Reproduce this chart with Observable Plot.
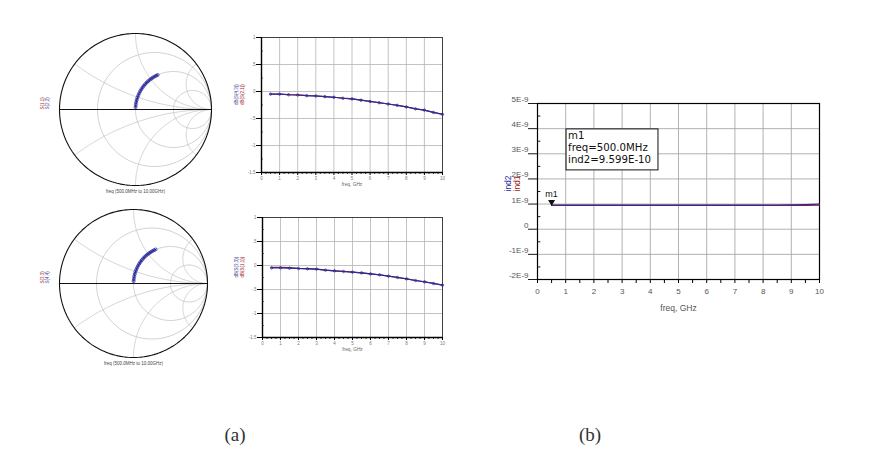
<!DOCTYPE html>
<html><head><meta charset="utf-8">
<script src="https://cdn.jsdelivr.net/npm/d3@7"></script>
<script src="https://cdn.jsdelivr.net/npm/@observablehq/plot@0.6"></script>
<style>
body{margin:0;background:#fff;}
#wrap{position:relative;width:875px;height:453px;overflow:hidden;background:#fff;}
#wrap svg{position:absolute;overflow:visible;background:transparent;}
.cap{position:absolute;font-family:"Liberation Serif","DejaVu Serif",serif;font-size:19px;line-height:19px;color:#333;transform:translateX(-50%);}
</style></head><body><div id="wrap"></div>
<script>
// ---- data ----
const freqGHz = [0.5,1,1.5,2,2.5,3,3.5,4,4.5,5,5.5,6,6.5,7,7.5,8,8.5,9,9.5,10];
// Smith chart traces (reflection coefficient)
const s11Re = [0.001,0.004,0.009,0.016,0.025,0.036,0.048,0.062,0.077,0.093,0.110,0.128,0.148,0.167,0.187,0.208,0.228,0.249,0.270,0.291];
const s11Im = [0.032,0.064,0.095,0.126,0.156,0.185,0.213,0.240,0.266,0.290,0.313,0.334,0.355,0.373,0.390,0.406,0.420,0.432,0.444,0.454];
const s33Re = [0.002,0.005,0.010,0.017,0.026,0.037,0.049,0.063,0.078,0.094,0.112,0.130,0.150,0.170,0.190,0.211,0.232,0.253,0.275,0.298];
const s33Im = [0.033,0.065,0.096,0.127,0.158,0.187,0.215,0.242,0.268,0.292,0.315,0.337,0.358,0.377,0.394,0.410,0.424,0.437,0.449,0.460];
// small rectangular plots
const topBlue = [-0.048,-0.048,-0.060,-0.065,-0.077,-0.083,-0.095,-0.107,-0.125,-0.137,-0.161,-0.185,-0.208,-0.232,-0.256,-0.286,-0.321,-0.345,-0.387,-0.423];
const topRed  = [-0.046,-0.047,-0.058,-0.064,-0.076,-0.082,-0.094,-0.106,-0.124,-0.136,-0.160,-0.184,-0.207,-0.231,-0.255,-0.285,-0.320,-0.344,-0.386,-0.422];
const botBlue = [-0.049,-0.049,-0.056,-0.063,-0.069,-0.076,-0.097,-0.111,-0.125,-0.139,-0.153,-0.174,-0.194,-0.222,-0.250,-0.278,-0.313,-0.340,-0.375,-0.410];
const botRed  = [-0.040,-0.040,-0.045,-0.058,-0.066,-0.074,-0.095,-0.110,-0.124,-0.138,-0.152,-0.173,-0.193,-0.221,-0.249,-0.277,-0.312,-0.339,-0.374,-0.409];
const smallYTicks = [-1.5,-1,-0.5,0,0.5,1];
const smallYLabels = ["-1.5","-1","-.5","0",".5","1"];
// large plot (b)
const ind2 = [9.599e-10,9.58e-10,9.57e-10,9.56e-10,9.56e-10,9.55e-10,9.55e-10,9.55e-10,9.55e-10,9.55e-10,9.56e-10,9.56e-10,9.57e-10,9.57e-10,9.58e-10,9.60e-10,9.63e-10,9.68e-10,9.78e-10,9.95e-10];
const ind1 = [9.50e-10,9.50e-10,9.49e-10,9.49e-10,9.48e-10,9.48e-10,9.48e-10,9.48e-10,9.48e-10,9.48e-10,9.48e-10,9.48e-10,9.49e-10,9.49e-10,9.49e-10,9.50e-10,9.50e-10,9.51e-10,9.52e-10,9.53e-10];
const bigYTicks = [-2e-9,-1e-9,0,1e-9,2e-9,3e-9,4e-9,5e-9];
const bigYLabels = ["-2E-9","-1E-9","0","1E-9","2E-9","3E-9","4E-9","5E-9"];
const xTicks = [0,1,2,3,4,5,6,7,8,9,10];
const markerLines = ["m1", "freq=500.0MHz", "ind2=9.599E-10"];

const wrap = document.getElementById("wrap");
const FONT = "Liberation Sans, Arial, sans-serif";
const NAVY = "#2a2a9c", DRED = "#a01818";

function place(svg, left, top) {
  svg.style.left = left + "px"; svg.style.top = top + "px";
  wrap.appendChild(svg);
}

// ---- Smith chart grid geometry ----
function gam(r, x) {
  const D = (r + 1) * (r + 1) + x * x;
  return [(r * r + x * x - 1) / D, 2 * x / D];
}
const grid = [];
[1/3, 1, 3].forEach((r, i) => {
  const c = r / (1 + r), R = 1 / (1 + r);
  d3.range(0, 363, 3).forEach(a => grid.push({g: "r" + i, x: c + R * Math.cos(a * Math.PI / 180), y: R * Math.sin(a * Math.PI / 180)}));
});
[1/3, 1, 3, -1/3, -1, -3].forEach((xv, i) => {
  d3.range(0, 0.999, 0.004).forEach(t => { const p = gam(t / (1 - t), xv); grid.push({g: "x" + i, x: p[0], y: p[1]}); });
  grid.push({g: "x" + i, x: 1, y: 0});
});
const outer = d3.range(0, 363, 2).map(a => ({x: Math.cos(a * Math.PI / 180), y: Math.sin(a * Math.PI / 180)}));

function smith(re, im, m, labA, labB, cap) {
  const pts = freqGHz.map((f, i) => ({re: re[i], im: im[i]}));
  return Plot.plot({
    width: 200, height: 190, marginLeft: m, marginRight: m, marginTop: (190 - (200 - 2 * m)) / 2, marginBottom: (190 - (200 - 2 * m)) / 2,
    style: {fontFamily: FONT, background: "transparent"},
    x: {domain: [-1, 1], axis: null}, y: {domain: [-1, 1], axis: null},
    marks: [
      Plot.line(grid, {x: "x", y: "y", z: "g", stroke: "#bdbdbd", strokeWidth: 0.7}),
      Plot.line(outer, {x: "x", y: "y", stroke: "#111", strokeWidth: 1.1}),
      Plot.ruleY([0], {x1: -1, x2: 1, stroke: "#111", strokeWidth: 1.1}),
      Plot.line(pts, {x: "re", y: "im", stroke: NAVY, strokeWidth: 1.3}),
      Plot.dot(pts, {x: "re", y: "im", r: 1.5, stroke: NAVY, strokeWidth: 0.8}),
      Plot.text([cap], {text: d => d, frameAnchor: "bottom", dy: 7, fontSize: 4.5, fill: "#444"}),
      Plot.text([labA], {text: d => d, frameAnchor: "left", dx: -17, rotate: -90, fontSize: 4.5, fill: "#a03030"}),
      Plot.text([labB], {text: d => d, frameAnchor: "left", dx: -12, rotate: -90, fontSize: 4.5, fill: "#5050a0"})
    ]
  });
}
place(smith(s11Re, s11Im, 24, "S(1,1)", "S(2,2)", "freq (500.0MHz to 10.00GHz)"), 35, 14);
place(smith(s33Re, s33Im, 26, "S(3,3)", "S(4,4)", "freq (500.0MHz to 10.00GHz)"), 33, 188);

// ---- small rectangular plots ----
function rect(blue, red, w, h, ml, mr, mt, mb, labRed, labBlue) {
  const pts = freqGHz.map((f, i) => ({f, b: blue[i], r: red[i]}));
  const minor = d3.range(0, 10.01, 0.25).filter(v => Math.abs(v - Math.round(v)) > 1e-6);
  const yMinor = [-1.25,-0.75,-0.25,0.25,0.75];
  return Plot.plot({
    width: w, height: h, marginLeft: ml, marginRight: mr, marginTop: mt, marginBottom: mb,
    style: {fontFamily: FONT, background: "transparent"},
    x: {domain: [0, 10]}, y: {domain: [-1.5, 1]},
    marks: [
      Plot.ruleX(xTicks, {stroke: "#b4b4b4", strokeWidth: 0.8}),
      Plot.ruleY(smallYTicks, {stroke: "#b4b4b4", strokeWidth: 0.8}),
      Plot.frame({stroke: "#333", strokeWidth: 0.9}),
      Plot.ruleX([0], {stroke: "#000", strokeWidth: 1.4}),
      Plot.ruleY([-1.5], {stroke: "#000", strokeWidth: 1.4}),
      Plot.axisX(xTicks, {tickSize: 3, tickPadding: 1, fontSize: 4.5, fill: "#777", label: null}),
      Plot.axisX(minor, {tickSize: 1.8, tickFormat: () => "", label: null}),
      Plot.ruleY(yMinor, {x1: 0, x2: 0.1, stroke: "#000", strokeWidth: 0.7}),
      Plot.axisY(smallYTicks, {tickSize: 5, tickPadding: 1, fontSize: 4.5, fill: "#777", label: null,
        tickFormat: d => smallYLabels[smallYTicks.indexOf(d)]}),
      Plot.line(pts, {x: "f", y: "r", stroke: DRED, strokeWidth: 1.2}),
      Plot.line(pts, {x: "f", y: "b", stroke: NAVY, strokeWidth: 1.2}),
      Plot.dot(pts, {x: "f", y: "b", r: 1.2, stroke: NAVY, strokeWidth: 0.8}),
      Plot.text(["freq, GHz"], {text: d => d, frameAnchor: "bottom", dy: 13, fontSize: 4.8, fill: "#666"}),
      Plot.text([labBlue], {text: d => d, frameAnchor: "left", dx: -ml + 6, rotate: -90, fontSize: 4.5, fill: "#4545a0"}),
      Plot.text([labRed], {text: d => d, frameAnchor: "left", dx: -ml + 12, rotate: -90, fontSize: 4.5, fill: "#a02828"})
    ]
  });
}
place(rect(topBlue, topRed, 225, 175, 31, 13, 12, 28, "dB(S(2,1))", "dB(S(4,3))"), 230, 25);
place(rect(botBlue, botRed, 225, 160, 32, 13, 12, 28, "dB(S(1,1))", "dB(S(3,3))"), 230, 205);

// ---- large plot (b) ----
(function () {
  const pts = freqGHz.map((f, i) => ({f, a: ind2[i], b: ind1[i]}));
  const xHalf = d3.range(0.5, 10, 1);
  const yHalf = d3.range(-1.5e-9, 5e-9, 1e-9);
  const boxText = markerLines.map((s, i) =>
    Plot.text([s], {x: 1.03, y: 3.97e-9, text: d => d, textAnchor: "start", lineAnchor: "top",
      dx: 1.5, dy: 2 + i * 12.1, fontSize: 10.2, fontFamily: "DejaVu Sans", fill: "#111"}));
  const svg = Plot.plot({
    width: 380, height: 240, marginLeft: 67, marginRight: 31, marginTop: 18, marginBottom: 46,
    style: {fontFamily: FONT, background: "transparent"},
    x: {domain: [0, 10]}, y: {domain: [-2e-9, 5e-9]},
    marks: [
      Plot.ruleX(xTicks, {stroke: "#a9a9a9", strokeWidth: 0.9}),
      Plot.ruleY(bigYTicks, {stroke: "#a9a9a9", strokeWidth: 0.9}),
      Plot.frame({stroke: "#000", strokeWidth: 1.2}),
      Plot.ruleY(bigYTicks, {x1: -0.32, x2: 0, stroke: "#000", strokeWidth: 0.9}),
      Plot.ruleY(yHalf, {x1: 0, x2: 0.12, stroke: "#000", strokeWidth: 0.9}),
      Plot.axisY(bigYTicks, {tickSize: 0, tickPadding: 9, dy: -4, fontSize: 8, fill: "#555", label: null,
        tickFormat: d => bigYLabels[bigYTicks.indexOf(d)]}),
      Plot.axisX(xTicks, {tickSize: 4, tickPadding: 5, fontSize: 8, fill: "#555", label: null}),
      Plot.axisX(xHalf, {tickSize: 4, tickFormat: () => "", label: null}),
      Plot.line(pts, {x: "f", y: "b", stroke: DRED, strokeWidth: 1.2}),
      Plot.line(pts, {x: "f", y: "a", stroke: NAVY, strokeWidth: 1.2}),
      Plot.dot([pts[0]], {x: "f", y: "a", symbol: "triangle", rotate: 180, r: 2.6, fill: "#111", dy: -3}),
      Plot.text(["m1"], {x: freqGHz[0], y: ind2[0], text: d => d, dy: -11, fontSize: 9, fill: "#111"}),
      Plot.rect([0], {x1: 1.03, x2: 4.29, y1: 2.34e-9, y2: 3.97e-9, fill: "#fff", stroke: "#111", strokeWidth: 1}),
      ...boxText,
      Plot.text(["freq, GHz"], {text: d => d, frameAnchor: "bottom", dy: 31, fontSize: 8.5, fill: "#555"}),
      Plot.text(["ind2"], {text: d => d, frameAnchor: "left", dx: -29, rotate: -90, fontSize: 8.5, fill: NAVY}),
      Plot.text(["ind1"], {text: d => d, frameAnchor: "left", dx: -20, rotate: -90, fontSize: 8.5, fill: DRED})
    ]
  });
  place(svg, 470, 85);
})();

// ---- captions ----
[["(a)", 235], ["(b)", 590]].forEach(([t, x]) => {
  const d = document.createElement("div");
  d.className = "cap"; d.textContent = t; d.style.left = x + "px"; d.style.top = "425px";
  wrap.appendChild(d);
});
</script></body></html>
